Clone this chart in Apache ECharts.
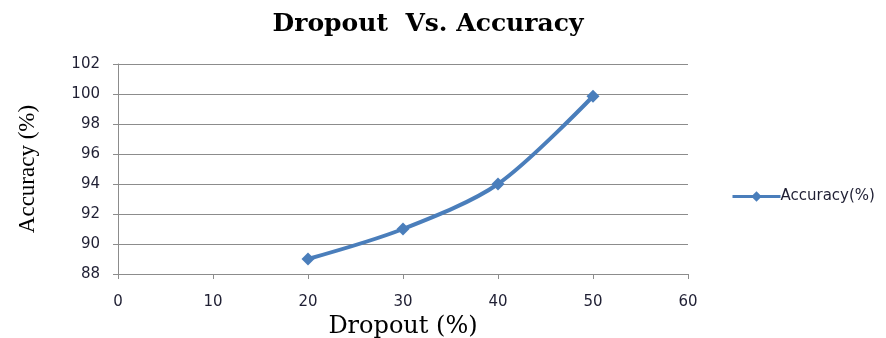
<!DOCTYPE html>
<html>
<head>
<meta charset="utf-8">
<script src="https://cdn.jsdelivr.net/npm/echarts@6/dist/echarts.min.js"></script>
<style>
html,body{margin:0;padding:0;background:#fff;}
#chart{width:886px;height:338px;}
</style>
</head>
<body>
<div id="chart"></div>
<script>
// Dropout rate (%) and the resulting accuracy (%)
const dropout = [20, 30, 40, 50];
const accuracy = [89, 91, 94, 99.85];
const seriesName = 'Accuracy(%)';

const chart = echarts.init(document.getElementById('chart'));
const tickFont = { fontFamily: 'DejaVu Sans', fontSize: 15, color: '#1f1f33' };

chart.setOption({
  animation: false,
  title: {
    text: 'Dropout  Vs. Accuracy',
    left: 423, top: 7, textAlign: 'center',
    textStyle: { fontFamily: 'DejaVu Serif', fontWeight: 'bold', fontSize: 25, color: '#000' }
  },
  legend: {
    data: [seriesName],
    left: 726, top: 184,
    itemWidth: 48, itemHeight: 13, itemGap: 4,
    lineStyle: { width: 3 },
    textStyle: { fontFamily: 'DejaVu Sans', fontSize: 15, color: '#1f1f33', padding: [0,0,0,-5] }
  },
  grid: { left: 118, right: 198, top: 64, bottom: 64, containLabel: false, outerBoundsMode: 'none' },
  xAxis: {
    type: 'value', min: 0, max: 60, interval: 10,
    name: 'Dropout (%)', nameLocation: 'middle', nameGap: 35,
    nameTextStyle: { fontFamily: 'DejaVu Serif', fontSize: 24, color: '#000' },
    axisLine: { lineStyle: { color: '#8c8c8c', width: 1 } },
    axisTick: { show: true, length: 5, lineStyle: { color: '#8c8c8c' } },
    axisLabel: Object.assign({ margin: 21 }, tickFont),
    splitLine: { show: false }
  },
  yAxis: {
    type: 'value', min: 88, max: 102, interval: 2,
    name: 'Accuracy (%)', nameLocation: 'middle', nameGap: 79, nameRotate: 90,
    nameTextStyle: { fontFamily: 'Liberation Serif', fontSize: 23, color: '#000' },
    axisLine: { show: true, lineStyle: { color: '#8c8c8c', width: 1 } },
    axisTick: { show: true, length: 5, lineStyle: { color: '#8c8c8c' } },
    axisLabel: Object.assign({ margin: 18 }, tickFont),
    splitLine: { show: true, lineStyle: { color: '#8c8c8c', width: 1 } }
  },
  series: [{
    name: seriesName,
    type: 'line',
    smooth: 0.3,
    data: dropout.map((d, i) => [d, accuracy[i]]),
    symbol: 'diamond', symbolSize: 13,
    itemStyle: { color: '#4a7ebb' },
    lineStyle: { color: '#4a7ebb', width: 4 }
  }]
});
</script>
</body>
</html>
